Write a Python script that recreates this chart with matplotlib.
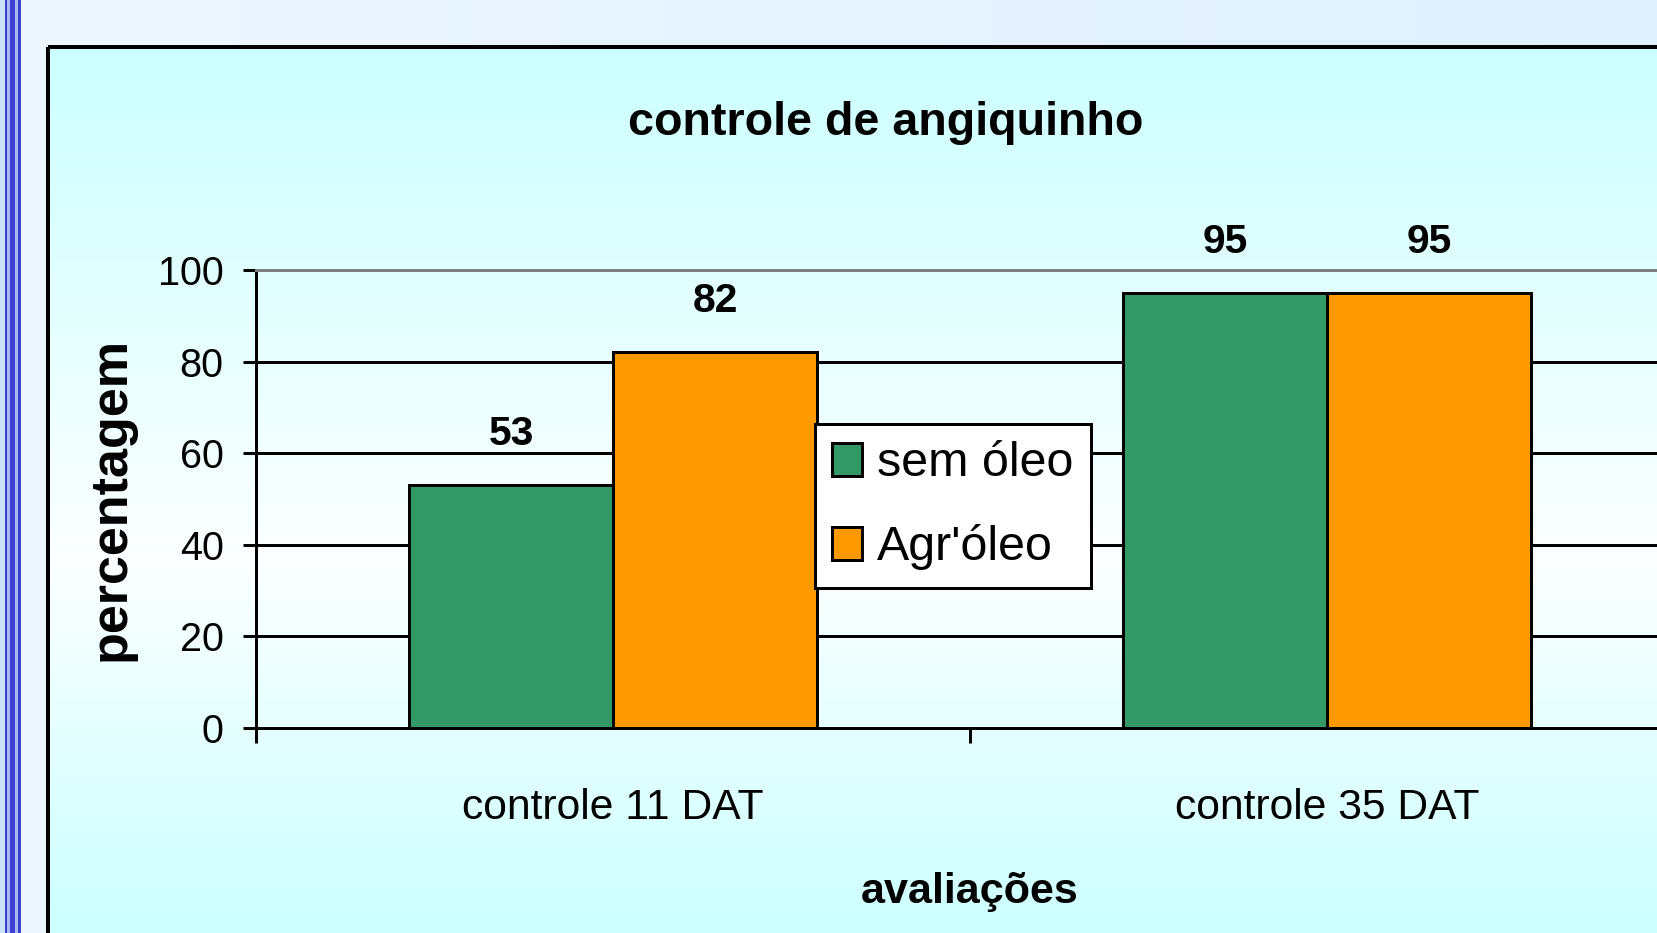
#!/usr/bin/env python3
import matplotlib

matplotlib.use("Agg")
import matplotlib.pyplot as plt
import numpy as np
from matplotlib import font_manager
from matplotlib.patches import Rectangle

categories = ["controle 11 DAT", "controle 35 DAT"]
series_names = ["sem óleo", "Agr'óleo"]
sem_oleo = [53, 95]
agroleo = [82, 95]
y_ticks = [0, 20, 40, 60, 80, 100]

title = "controle de angiquinho"
x_title = "avaliações"
y_title = "percentagem"

colors = ["#339966", "#FF9900"]

W, H = 1657, 933

installed = {f.name for f in font_manager.fontManager.ttflist}
if "Liberation Sans Narrow" in installed:
    narrow = "Liberation Sans Narrow"
    k = 1.0
else:
    narrow = "Liberation Sans"
    k = 0.84
plt.rcParams["font.family"] = [narrow, "DejaVu Sans"]


def px(v):
    # pixels -> points at dpi 100
    return v * 0.72


fig = plt.figure(figsize=(W / 100, H / 100), dpi=100)

# slide background, stripes and chart box
bg = fig.add_axes([0, 0, 1, 1], zorder=-10)
bg.set_xlim(0, W)
bg.set_ylim(H, 0)
bg.axis("off")

page = np.linspace(0, 1, 256)[None, :]
c0 = np.array([0xEE, 0xF7, 0xFF]) / 255
c1 = np.array([0xDF, 0xF0, 0xFF]) / 255
page_rgb = c0[None, None, :] * (1 - page[..., None]) + c1[None, None, :] * page[..., None]
bg.imshow(page_rgb, extent=(0, W, H, 0), aspect="auto", zorder=0)

ys = np.linspace(47, H, 400)
cyan = np.array([0xCC, 0xFF, 0xFF]) / 255
white = np.array([0xFC, 0xFF, 0xFF]) / 255
mid = 560
t = np.where(ys < mid, (ys - 47) / (mid - 47), (H - ys) / (H - mid))
box_rgb = cyan[None, :] * (1 - t[:, None]) + white[None, :] * t[:, None]
bg.imshow(box_rgb[:, None, :], extent=(48, 1725, H, 47), aspect="auto", zorder=1)
bg.add_patch(Rectangle((48, 47), 1677, 1000, fill=False, edgecolor="black",
                       linewidth=px(4), zorder=2))

bg.add_patch(Rectangle((0, 0), 21, H, facecolor="#C8E4FF", edgecolor="none", zorder=1))
for x0, x1, col in [(5, 7.3, "#4040D0"), (7.3, 10, "#A8B8F0"), (10, 15, "#4040D0"),
                    (15, 17.5, "#A8B8F0"), (17.5, 20.7, "#4040D0")]:
    bg.add_patch(Rectangle((x0, 0), x1 - x0, H, facecolor=col, edgecolor="none", zorder=2))

# plot area
left, right, top, bottom = 256, 1684, 270, 728
ax = fig.add_axes([left / W, 1 - bottom / H, (right - left) / W, (bottom - top) / H])
ax.set_facecolor("none")

x = np.arange(len(categories))
bar_w = 1 / 3.5
for i, (vals, name) in enumerate(zip([sem_oleo, agroleo], series_names)):
    pos = x + (i - 0.5) * bar_w
    ax.bar(pos, vals, width=bar_w, color=colors[i], edgecolor="black",
           linewidth=px(3), label=name, zorder=3)
    for xp, v in zip(pos, vals):
        ax.annotate(str(v), (xp, v), xytext=(0, px(40)), textcoords="offset points",
                    ha="center", va="baseline", fontsize=35 * k, fontweight="bold")

ax.set_xlim(-0.5, len(categories) - 0.5)
ax.set_ylim(0, 100)
ax.set_yticks(y_ticks)
ax.set_xticks(x)
ax.set_xticklabels(categories)
ax.set_xticks(np.arange(len(categories) + 1) - 0.5, minor=True)

ax.set_axisbelow(True)
ax.yaxis.grid(True, color="black", linewidth=px(3))
ax.get_ygridlines()[-1].set_color("#808080")

for side in ["left", "bottom"]:
    ax.spines[side].set_linewidth(px(3))
    ax.spines[side].set_color("black")
ax.spines["top"].set_color("#808080")
ax.spines["top"].set_linewidth(px(3))
ax.spines["right"].set_visible(False)

ax.tick_params(axis="y", direction="out", length=px(13), width=px(3), pad=14,
               labelsize=34 * k)
ax.tick_params(axis="x", which="major", length=0, pad=43, labelsize=36.5 * k)
ax.tick_params(axis="x", which="minor", direction="out", length=px(15), width=px(3))

ax.set_xlabel(x_title, fontsize=37 * k, fontweight="bold", va="baseline")
ax.xaxis.set_label_coords(0.5, (bottom - 903) / (bottom - top))
ax.set_ylabel(y_title, fontsize=37.5, fontweight="bold", family="Liberation Sans",
              va="center")
ax.yaxis.set_label_coords((111 - left) / (right - left), 0.5)

fig.text(886 / W, 1 - 135 / H, title, ha="center", va="baseline",
         fontsize=40 * k, fontweight="bold")

leg = ax.legend(loc="upper left", bbox_to_anchor=((815 - left) / (right - left),
                                                   (bottom - 424) / (bottom - top)),
                borderaxespad=0, fontsize=41.5 * k, frameon=True, fancybox=False,
                framealpha=1, facecolor="white", edgecolor="black",
                handlelength=0.62, handleheight=0.68, handletextpad=0.3,
                borderpad=0.36, labelspacing=0.78)
leg.get_frame().set_linewidth(px(3))
for h in leg.legend_handles:
    h.set_linewidth(px(3))

fig.savefig("out.png", dpi=100)
